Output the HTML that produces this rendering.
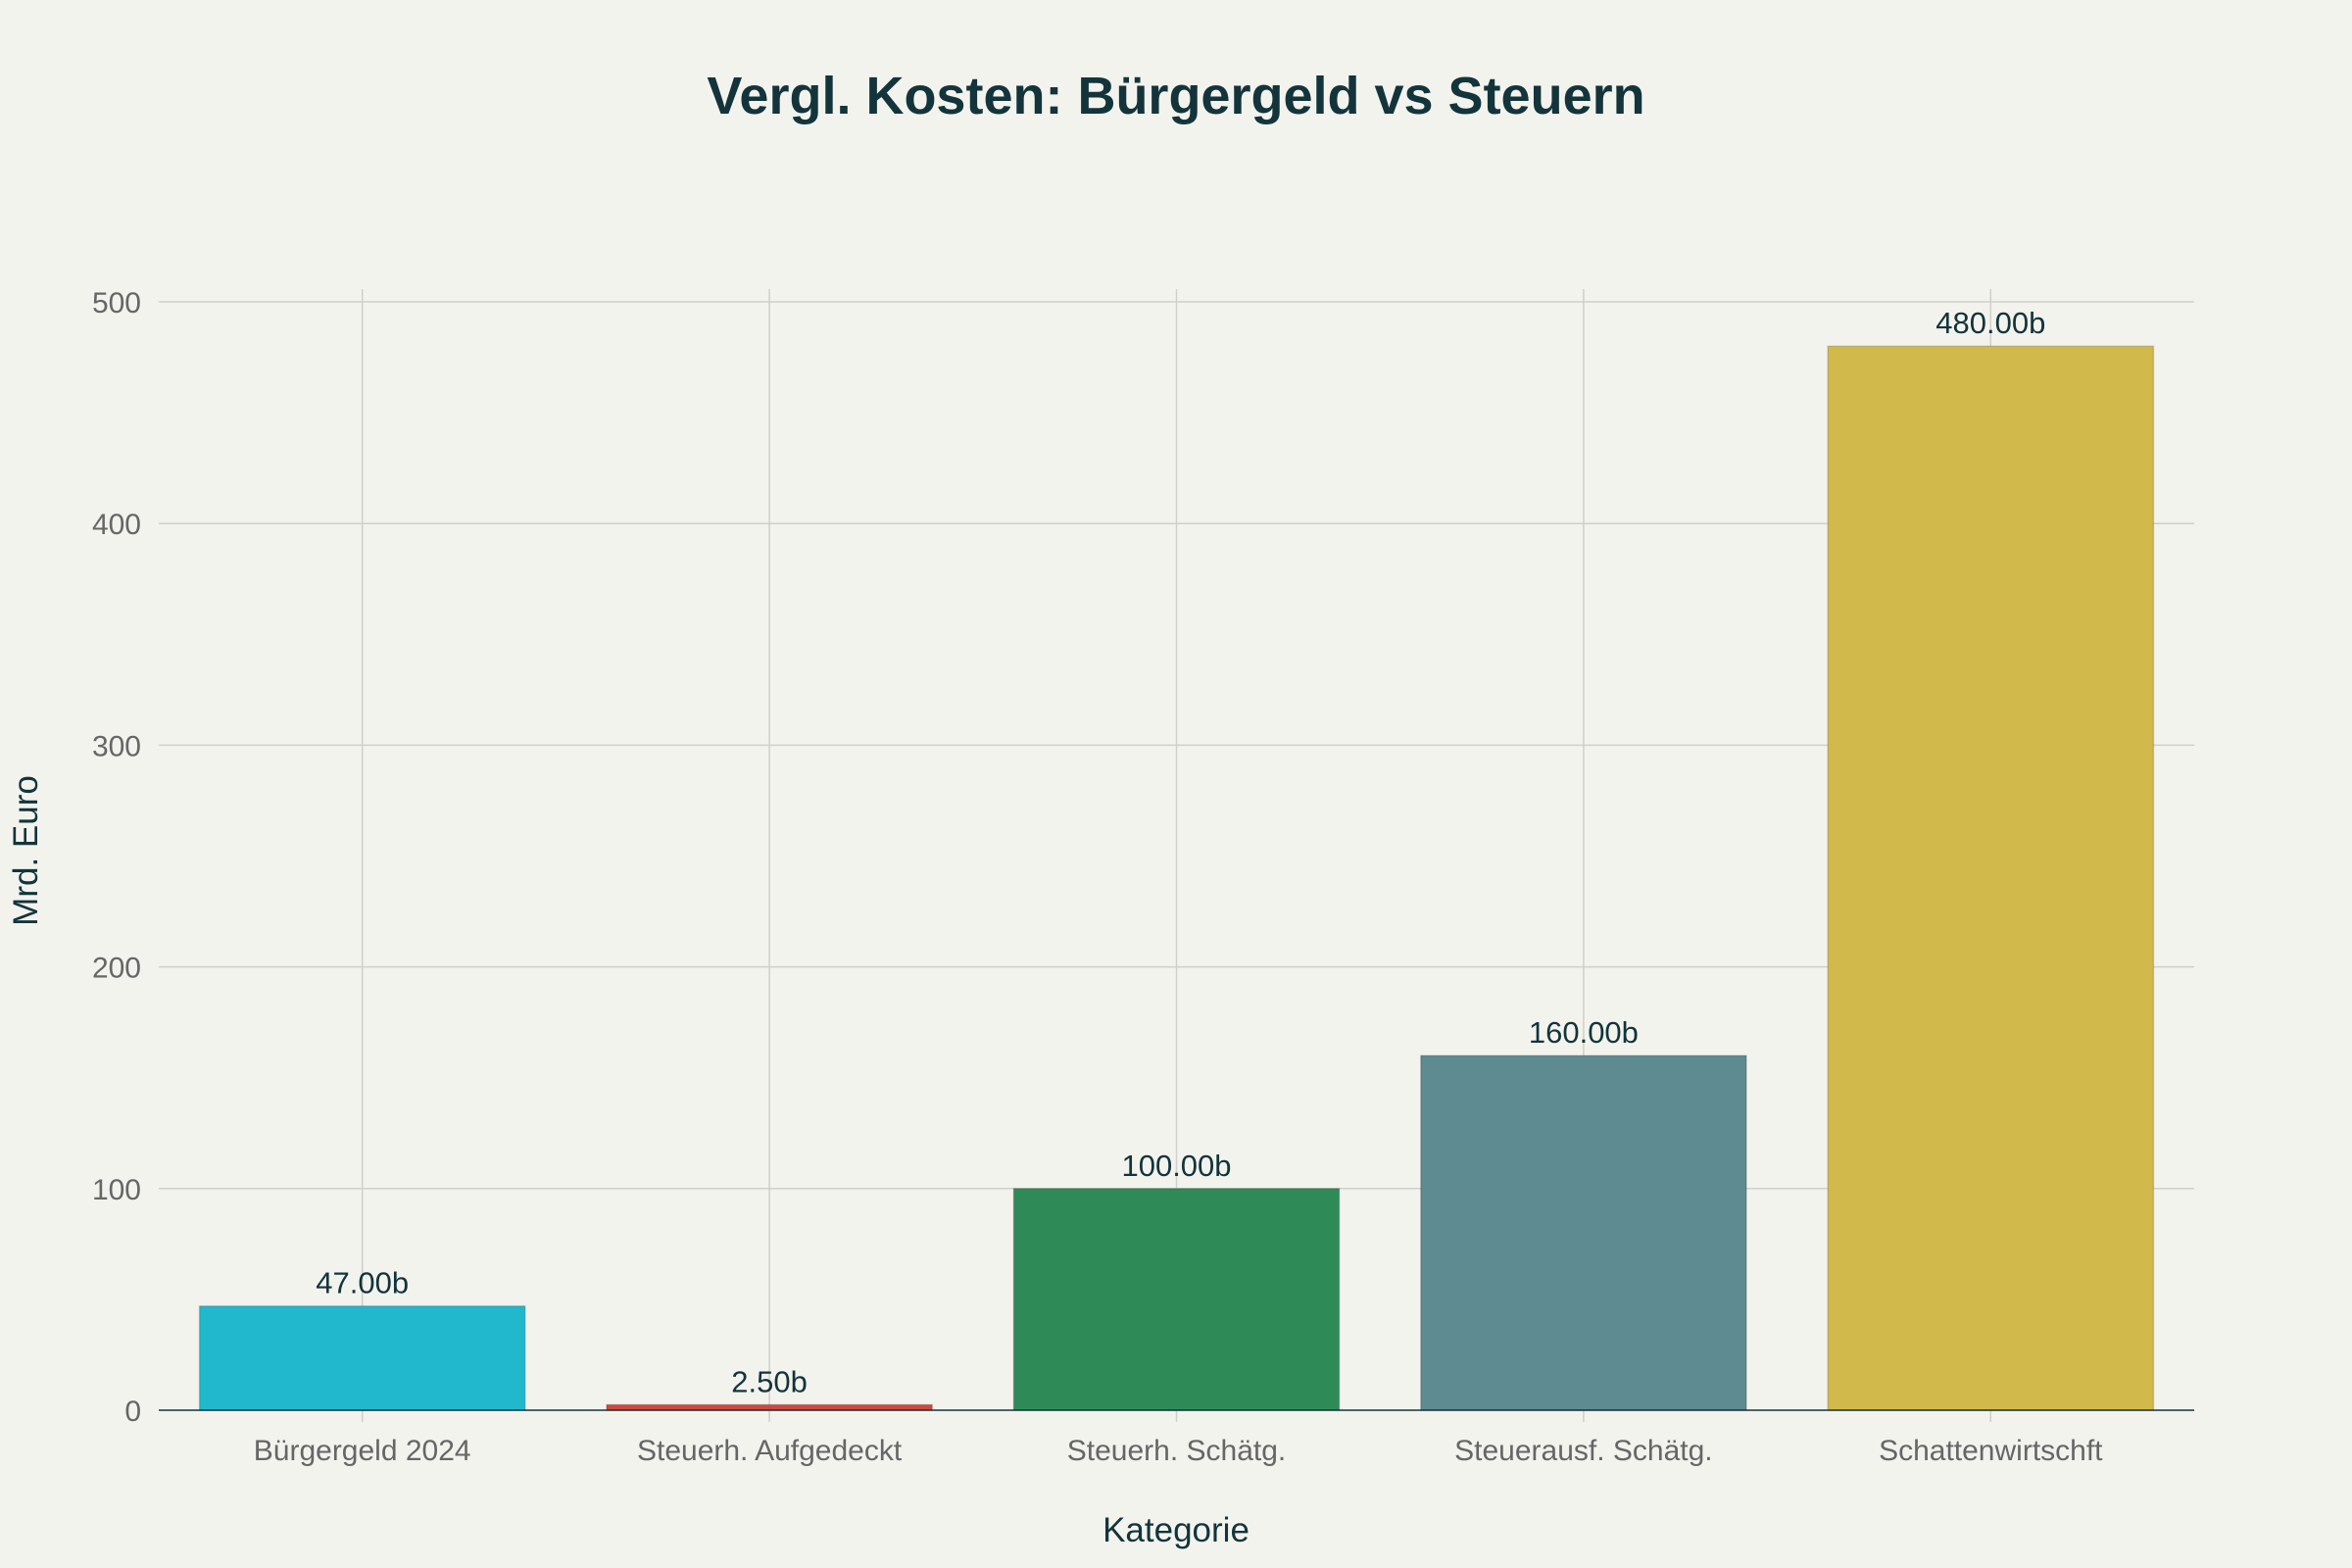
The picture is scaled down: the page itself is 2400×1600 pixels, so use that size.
<!DOCTYPE html>
<html><head><meta charset="utf-8"><style>
html,body{margin:0;padding:0;background:#f3f3ee;}
svg{display:block;font-family:"Liberation Sans",sans-serif;}
</style></head><body>
<svg id="chart" width="2400" height="1600" viewBox="0 0 2400 1600">
<rect width="2400" height="1600" fill="#f3f3ee"/>
<text x="1200" y="116" text-anchor="middle" font-size="54" font-weight="bold" fill="#13343b">Vergl. Kosten: Bürgergeld vs Steuern</text>
<g id="grid"></g><g id="bars"></g><g id="labels"></g>
<text x="1200" y="1573" text-anchor="middle" font-size="35" fill="#13343b">Kategorie</text>
<text transform="translate(38,868) rotate(-90)" text-anchor="middle" font-size="35" fill="#13343b">Mrd. Euro</text>
</svg>
<script>
const categories=["Bürgergeld 2024","Steuerh. Aufgedeckt","Steuerh. Schätg.","Steuerausf. Schätg.","Schattenwirtschft"];
const values=[47,2.5,100,160,480];
const valueLabels=["47.00b","2.50b","100.00b","160.00b","480.00b"];
const colors=["#21b8cd","#d0473e","#2e8b57","#5e8a91","#d2b94c"];
const yTicks=[0,100,200,300,400,500];
const L=162,R=2239,Y0=1439,Y500=308,TOP=295;
const ns="http://www.w3.org/2000/svg";
const y=v=>Y0+(Y500-Y0)*v/500;
const band=(R-L)/categories.length;
const x=i=>L+band*(i+0.5);
function mk(t,a,p){const e=document.createElementNS(ns,t);for(const k in a)e.setAttribute(k,a[k]);p.appendChild(e);return e;}
const g=document.getElementById('grid'),b=document.getElementById('bars'),lb=document.getElementById('labels');
yTicks.forEach(t=>{
 if(t>0){const l=mk('line',{x1:L,x2:R,y1:y(t),y2:y(t),stroke:'#cfcfcb','stroke-width':1.5},g);
 
 }
 const tx=mk('text',{x:L-18,y:y(t)+11,'text-anchor':'end','font-size':30,fill:'#666'},lb);tx.textContent=t;
 
 
});
categories.forEach((c,i)=>{
 const l=mk('line',{x1:x(i),x2:x(i),y1:TOP,y2:Y0+12,stroke:'#cfcfcb','stroke-width':1.5},g);
 
 
 const w=band*0.8,top=y(values[i]);
 const r=mk('rect',{x:x(i)-w/2,y:top,width:w,height:Y0-top,fill:colors[i],stroke:'rgba(0,0,0,0.15)','stroke-width':1.5},b);
 
 
 const v=mk('text',{x:x(i),y:top-13,'text-anchor':'middle','font-size':31,fill:'#13343b'},lb);v.textContent=valueLabels[i];
 
 
 const t=mk('text',{x:x(i),y:Y0+51,'text-anchor':'middle','font-size':30,fill:'#666'},lb);t.textContent=c;
 
 
});
const ax=mk('line',{x1:L,x2:R,y1:Y0,y2:Y0,stroke:'#13343b','stroke-width':1.5},lb);


</script>
</body></html>
